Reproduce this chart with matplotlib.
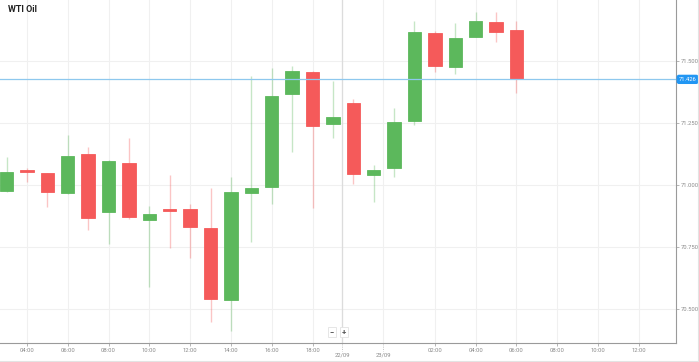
import matplotlib
matplotlib.use("Agg")
import matplotlib.pyplot as plt
import numpy as np
from matplotlib.patches import Rectangle
from matplotlib.lines import Line2D

plt.rcParams['font.family'] = ['Roboto', 'DejaVu Sans']

# hourly candles, 21/09 03:00 .. 23/09 04:00
opens = [70.976, 71.060, 71.047, 70.966, 71.124, 70.890, 71.090, 70.859, 70.902, 70.902,
         70.825, 70.536, 70.967, 70.991, 71.367, 71.456, 71.246, 71.329, 71.040, 71.067,
         71.259, 71.612, 71.475, 71.596, 71.656, 71.625]
highs = [71.113, 71.069, 71.050, 71.202, 71.154, 71.100, 71.191, 70.915, 71.040, 70.923,
         70.987, 71.031, 71.441, 71.471, 71.481, 71.460, 71.419, 71.346, 71.081, 71.309,
         71.661, 71.621, 71.652, 71.699, 71.699, 71.661]
lows = [70.972, 71.012, 70.912, 70.962, 70.819, 70.762, 70.862, 70.590, 70.745, 70.704,
        70.448, 70.413, 70.771, 70.922, 71.132, 70.908, 71.191, 71.003, 70.933, 71.033,
        71.242, 71.454, 71.448, 71.596, 71.575, 71.370]
closes = [71.054, 71.052, 70.971, 71.117, 70.866, 71.097, 70.870, 70.882, 70.895, 70.829,
          70.540, 70.971, 70.987, 71.360, 71.461, 71.239, 71.275, 71.046, 71.060, 71.255,
          71.616, 71.481, 71.592, 71.661, 71.618, 71.426]
last_price = 71.426

time_ticks = [1, 3, 5, 7, 9, 11, 13, 15, 21, 23, 25, 27, 29, 31]
time_labels = ["04:00", "06:00", "08:00", "10:00", "12:00", "14:00", "16:00", "18:00",
               "02:00", "04:00", "06:00", "08:00", "10:00", "12:00"]
date_ticks = [16.45, 18.46]
date_labels = ["22/09", "23/09"]
y_ticks = [70.5, 70.75, 71.0, 71.25, 71.5]

GREEN = "#5cb85c"
RED = "#f55a5a"
GRID = "#f0f0f0"
TXT = "#8a8a8a"

fig = plt.figure(figsize=(6.99, 3.62), dpi=100)
ax = fig.add_axes([0.0, 1 - 343 / 362, 676 / 699, 343 / 362])

x = np.arange(len(opens))
for i in x:
    o, h, l, c = opens[i], highs[i], lows[i], closes[i]
    col = GREEN if c >= o else RED
    ax.vlines(i, l, h, color=col, alpha=0.35, lw=1, zorder=2)
    lo = min(o, c)
    hgt = max(abs(c - o), 0.004)
    ax.add_patch(Rectangle((i - 0.33, lo), 0.66, hgt, facecolor=col,
                           edgecolor=col, lw=0.6, zorder=3))

# grid
for t in time_ticks + date_ticks:
    ax.axvline(t, color=GRID, lw=0.8, zorder=0)
ax.axvline(date_ticks[0], color="#dcdcdc", lw=0.9, zorder=1)
for v in y_ticks:
    ax.axhline(v, color=GRID, lw=0.8, zorder=0)

# current price line
ax.axhline(last_price, color="#8ec8ee", lw=0.9, zorder=4)

ax.set_xlim(-0.32, 32.82)
ax.set_ylim(70.363, 71.746)

ax.yaxis.tick_right()
ax.set_yticks(y_ticks)
ax.set_yticklabels(["%.3f" % v for v in y_ticks])
ax.tick_params(axis="y", length=2, width=0.6, color="#aaaaaa", labelsize=4.2,
               labelcolor=TXT, pad=1.5)
ax.set_xticks(time_ticks)
ax.set_xticklabels(time_labels)
ax.tick_params(axis="x", length=2, width=0.6, color="#aaaaaa", labelsize=4.2,
               labelcolor=TXT, pad=1.5)
for t, lab in zip(date_ticks, date_labels):
    ax.plot([t, t], [-0.003, -0.024], transform=ax.get_xaxis_transform(),
            color="#aaaaaa", lw=0.6, ls=":", clip_on=False)
    ax.text(t, -0.035, lab, transform=ax.get_xaxis_transform(), ha="center",
            va="center", fontsize=4.2, color=TXT)

for side in ["top", "left"]:
    ax.spines[side].set_visible(False)
ax.spines["right"].set_color("#9a9a9a")
ax.spines["bottom"].set_color("#9a9a9a")
ax.spines["right"].set_linewidth(0.8)
ax.spines["bottom"].set_linewidth(0.8)

# price label on the right axis
ax.text(1.004, last_price, "%.3f" % last_price, transform=ax.get_yaxis_transform(),
        ha="left", va="center", fontsize=4.2, color="white", zorder=6, clip_on=False,
        bbox=dict(boxstyle="round,pad=0.25,rounding_size=0.3", fc="#2196f3", ec="#2196f3"))

# zoom buttons
for xp, s in [(332 / 699, "\u2212"), (344 / 699, "+")]:
    fig.text(xp, 1 - 332 / 362, s, ha="center", va="center", fontsize=5.5,
             color="#555555", fontweight="bold",
             bbox=dict(boxstyle="square,pad=0.25", fc="white", ec="#e2e2e2", lw=0.6))

fig.text(8 / 699, 1 - 10 / 362, "WTI Oil", ha="left", va="center", fontsize=6.5,
         fontweight="bold", color="#222222")

# outer frame (right and bottom only)
fig.add_artist(Line2D([0, 697.5 / 699], [1 / 362, 1 / 362], transform=fig.transFigure,
                      color="#e3e3e3", lw=0.8))
fig.add_artist(Line2D([697.5 / 699, 697.5 / 699], [1 / 362, 1], transform=fig.transFigure,
                      color="#e3e3e3", lw=0.8))

fig.savefig("out.png", dpi=100, facecolor="white")
